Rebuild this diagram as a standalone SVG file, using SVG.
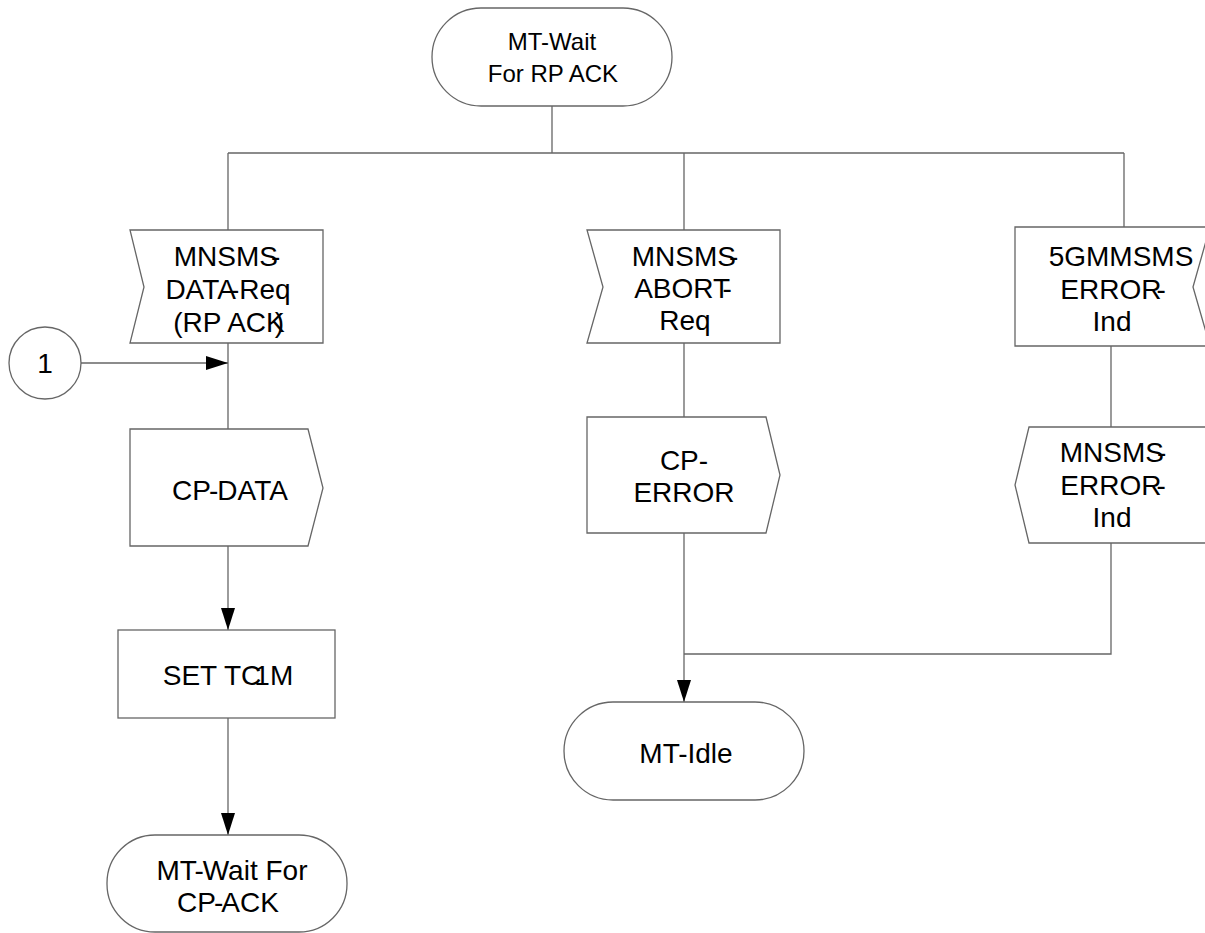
<svg xmlns="http://www.w3.org/2000/svg" width="1205" height="933" viewBox="0 0 1205 933">
<defs>
<marker id="arr" markerUnits="userSpaceOnUse" markerWidth="24" markerHeight="16" refX="22" refY="7" orient="auto">
<path d="M0,0 L22,7 L0,14 Z" fill="#000"/>
</marker>
<style>
.s{fill:#fff;stroke:#666;stroke-width:1.3}
.c{fill:none;stroke:#666;stroke-width:1.3}
.t{font-family:"Liberation Sans",Arial,sans-serif;font-size:28px;fill:#000;text-anchor:middle}
.t2{font-family:"Liberation Sans",Arial,sans-serif;font-size:24px;fill:#000;text-anchor:middle}
</style>
</defs>
<rect width="1205" height="933" fill="#fff"/>
<g id="connectors">
<path class="c" d="M552,106 V153 M228,153 H1124 M228,153 V230 M684,153 V230 M1124,153 V227"/>
<path class="c" d="M228,343 V429 M684,343 V417 M1111,346 V427 M1111,543 V654 H684"/>
<path class="c" d="M81,363 H228" marker-end="url(#arr)"/>
<path class="c" d="M228,546 V630" marker-end="url(#arr)"/>
<path class="c" d="M228,718 V835" marker-end="url(#arr)"/>
<path class="c" d="M684,533 V702" marker-end="url(#arr)"/>
</g>
<g id="n-wait-rp">
<rect class="s" x="432" y="8" width="240" height="98" rx="49"/>
<text class="t2" x="552" y="50">MT-Wait</text>
<text class="t2" x="553" y="82">For RP ACK</text>
</g>
<g id="n-data-req">
<polygon class="s" points="130,230 323,230 323,343 130,343 144,287"/>
<text class="t" x="227" y="266">MNSMS<tspan dx="-7">-</tspan></text>
<text class="t" x="228" y="299">DATA<tspan dx="-6">-</tspan><tspan dx="0">Req</tspan></text>
<text class="t" x="229" y="332">(RP ACK<tspan dx="-10">)</tspan></text>
</g>
<g id="n-conn1">
<circle class="s" cx="45" cy="363" r="36"/>
<text class="t" x="45" y="373">1</text>
</g>
<g id="n-cp-data">
<polygon class="s" points="130,429 308,429 323,488 308,546 130,546"/>
<text class="t" x="230" y="500">CP<tspan dx="-2">-</tspan><tspan dx="-1">DATA</tspan></text>
</g>
<g id="n-set">
<rect class="s" x="118" y="630" width="217" height="88"/>
<text class="t" x="228" y="685">SET TC<tspan dx="-7">1</tspan>M</text>
</g>
<g id="n-wait-cp">
<rect class="s" x="107" y="835" width="240" height="97" rx="48"/>
<text class="t" x="232" y="880">MT<tspan dx="-1">-</tspan><tspan dx="-1">Wait For</tspan></text>
<text class="t" x="228" y="912">CP<tspan dx="-2">-</tspan><tspan dx="-2">ACK</tspan></text>
</g>
<g id="n-abort">
<polygon class="s" points="587,230 780,230 780,343 587,343 603,287"/>
<text class="t" x="685" y="266">MNSMS<tspan dx="-7">-</tspan></text>
<text class="t" x="683" y="298">ABORT<tspan dx="-6">-</tspan></text>
<text class="t" x="685" y="330">Req</text>
</g>
<g id="n-cp-error">
<polygon class="s" points="587,417 766,417 780,475 766,533 587,533"/>
<text class="t" x="684" y="470">CP-</text>
<text class="t" x="684" y="502">ERROR</text>
</g>
<g id="n-idle">
<rect class="s" x="564" y="702" width="240" height="98" rx="49"/>
<text class="t" x="686" y="763">MT-Idle</text>
</g>
<g id="n-5gmm">
<polygon class="s" points="1015,227 1210,227 1193,287 1210,346 1015,346"/>
<text class="t" x="1121" y="266">5GMMSMS</text>
<text class="t" x="1113" y="299">ERROR<tspan dx="-5">-</tspan></text>
<text class="t" x="1112" y="331">Ind</text>
</g>
<g id="n-error-ind">
<polygon class="s" points="1029,427 1210,427 1210,543 1029,543 1015,485"/>
<text class="t" x="1113" y="462">MNSMS<tspan dx="-7">-</tspan></text>
<text class="t" x="1113" y="495">ERROR<tspan dx="-5">-</tspan></text>
<text class="t" x="1112" y="527">Ind</text>
</g>
</svg>
